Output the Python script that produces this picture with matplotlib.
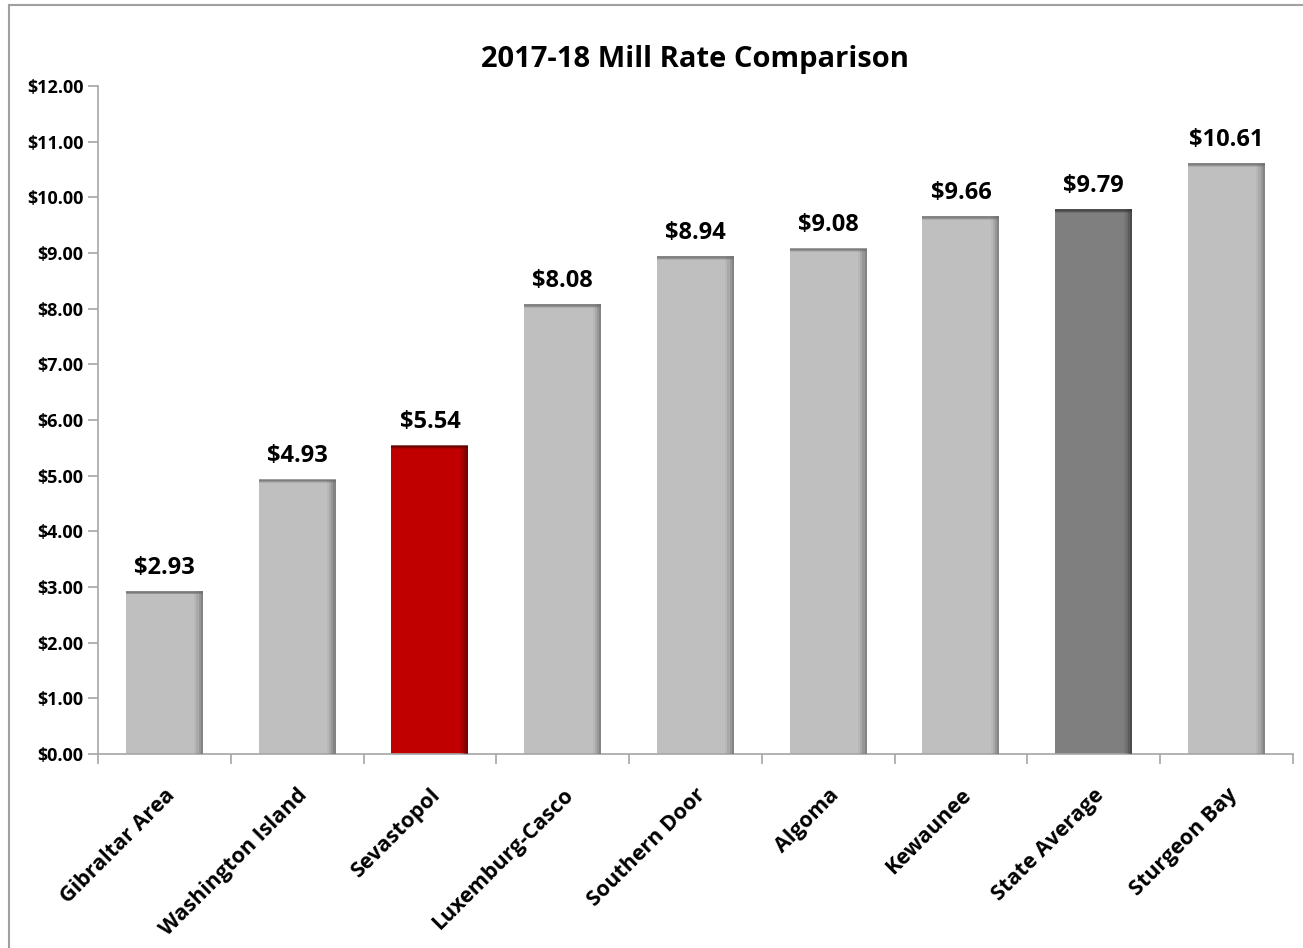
import numpy as np
import matplotlib.pyplot as plt
from matplotlib.lines import Line2D
from matplotlib.ticker import FuncFormatter

plt.rcParams['font.family'] = ['Open Sans', 'DejaVu Sans']

districts = ["Gibraltar Area", "Washington Island", "Sevastopol", "Luxemburg-Casco",
             "Southern Door", "Algoma", "Kewaunee", "State Average", "Sturgeon Bay"]
mill_rates = [2.93, 4.93, 5.54, 8.08, 8.94, 9.08, 9.66, 9.79, 10.61]
bar_colors = ["#BFBFBF", "#BFBFBF", "#C00000", "#BFBFBF", "#BFBFBF",
              "#BFBFBF", "#BFBFBF", "#7F7F7F", "#BFBFBF"]
edge_colors = ["#6E6E6E", "#6E6E6E", "#5A0000", "#6E6E6E", "#6E6E6E",
               "#6E6E6E", "#6E6E6E", "#3A3A3A", "#6E6E6E"]

fig = plt.figure(figsize=(13.03, 9.48), dpi=100)
ax = fig.add_axes([0.0752, 0.2046, 0.917, 0.7047])

x = np.arange(len(districts))
w = 0.58
ax.bar(x, mill_rates, width=w, color=bar_colors, zorder=2)

# bevel look: darker strip on the right side and top of each bar
for i in range(len(x)):
    right = x[i] + w / 2
    for k, a in enumerate([0.15, 0.3, 0.5, 0.75]):
        sw = 0.065 * (4 - k) / 4
        ax.bar(right - sw, mill_rates[i], width=sw, align='edge',
               color=edge_colors[i], alpha=a * 0.6, lw=0, zorder=3)
    for k, a in enumerate([0.25, 0.5, 0.8]):
        ax.plot([x[i] - w / 2, right], [mill_rates[i] - 0.015 * (3 - k)] * 2,
                color=edge_colors[i], lw=1.2, alpha=a, zorder=4,
                solid_capstyle='butt')

for xi, v in zip(x, mill_rates):
    ax.text(xi, v + 0.2, "${:.2f}".format(v), ha='center', va='bottom',
            fontsize=17, fontweight='bold', color='black')

ax.set_xlim(-0.5, len(districts) - 0.5)
ax.set_ylim(0, 12)
ax.set_yticks(np.arange(0, 13, 1))
ax.yaxis.set_major_formatter(FuncFormatter(lambda v, p: "${:.2f}".format(v)))
ax.set_xticks(np.arange(-0.5, len(districts), 1))
ax.set_xticklabels([])
ax.set_xticks(x, minor=True)
ax.set_xticklabels(districts, minor=True, rotation=45, ha='right',
                   rotation_mode='anchor', fontsize=15.5, fontweight='bold')
ax.tick_params(axis='x', which='minor', length=0, pad=22)
ax.tick_params(axis='x', which='major', length=7, color='#A6A6A6', width=1.2)
ax.tick_params(axis='y', length=7, color='#A6A6A6', width=1.2, labelsize=13)
for lab in ax.get_yticklabels():
    lab.set_fontweight('bold')

for s in ['top', 'right']:
    ax.spines[s].set_visible(False)
for s in ['left', 'bottom']:
    ax.spines[s].set_color('#A6A6A6')
    ax.spines[s].set_linewidth(1.2)

ax.set_title("2017-18 Mill Rate Comparison", fontsize=21, fontweight='bold', pad=14)

# chart area border (left and top edges visible)
fig.add_artist(Line2D([9 / 1303, 9 / 1303], [0, 1 - 5 / 948], color='#A0A0A0', lw=1.5))
fig.add_artist(Line2D([9 / 1303, 1], [1 - 5 / 948, 1 - 5 / 948], color='#A0A0A0', lw=1.5))

fig.savefig("out.png", dpi=100)
